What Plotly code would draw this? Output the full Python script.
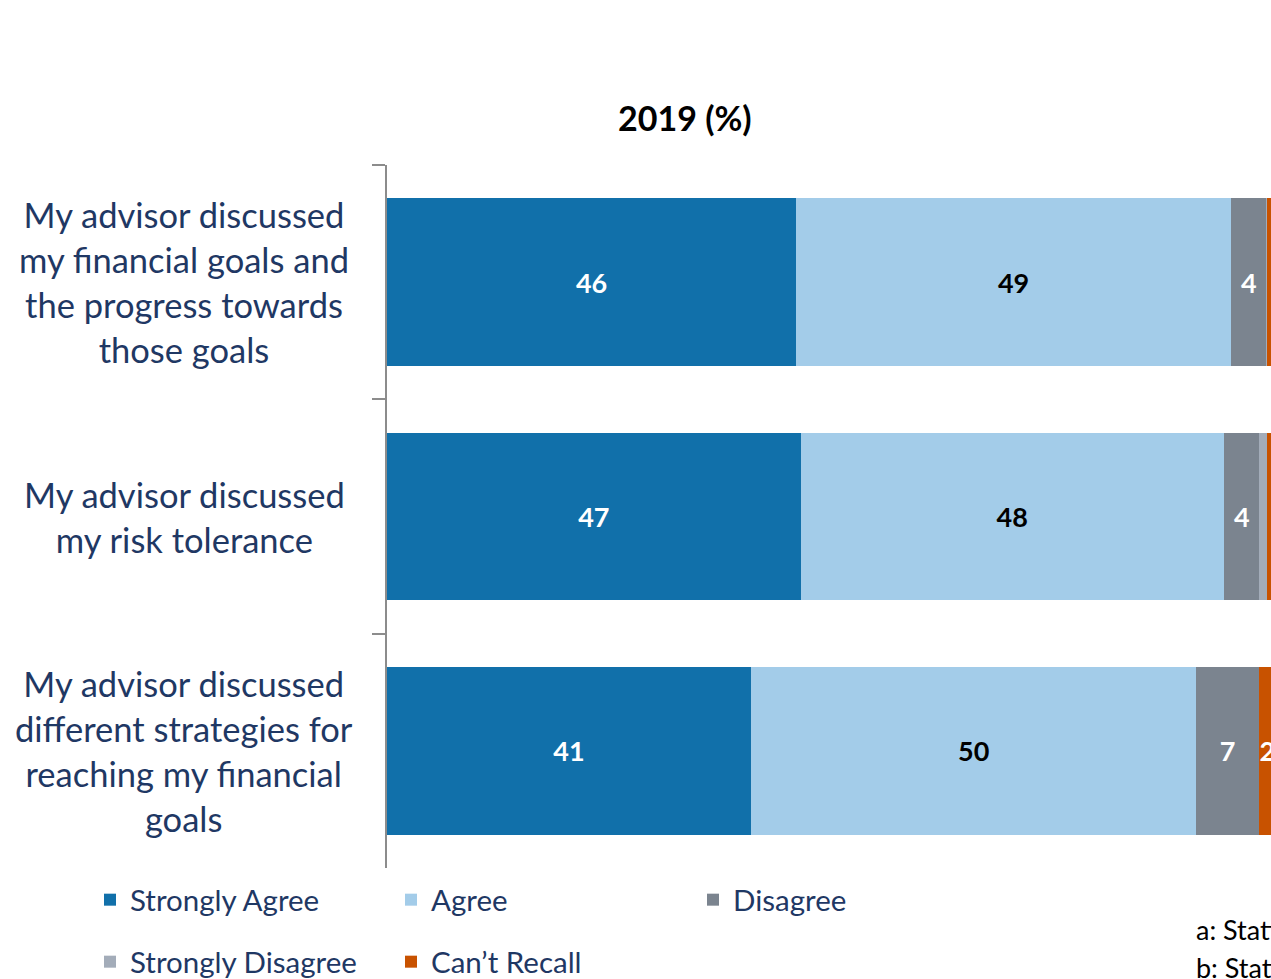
import plotly.graph_objects as go

categories = [
    "My advisor discussed<br>my financial goals and<br>the progress towards<br>those goals",
    "My advisor discussed<br>my risk tolerance",
    "My advisor discussed<br>different strategies for<br>reaching my financial<br>goals",
]
series_names = ["Strongly Agree", "Agree", "Disagree", "Strongly Disagree", "Can\u2019t Recall"]
strongly_agree = [46.1, 46.6, 41.0]
agree = [49.0, 47.7, 50.2]
disagree = [4.0, 4.0, 7.0]
strongly_disagree = [0.1, 0.9, 0.0]
cant_recall = [0.8, 0.8, 2.0]
title_text = "2019 (%)"
notes = ["a: Statistically significant", "b: Statistically significant"]

values = [strongly_agree, agree, disagree, strongly_disagree, cant_recall]
colors = ["#1170AA", "#A3CCE9", "#7B848F", "#A3ACB9", "#C85200"]
text_colors = ["white", "black", "white", "white", "white"]
legend_ids = ["legend", "legend", "legend3", "legend2", "legend2"]

FONT = "Lato"
NAVY = "#1F3864"

fig = go.Figure()
for name, vals, col, tcol, lg in zip(series_names, values, colors, text_colors, legend_ids):
    fig.add_trace(go.Bar(
        y=categories, x=vals, name=name, orientation="h",
        marker=dict(color=col, line=dict(width=0)),
        text=[f"{v:.0f}" if v >= 2 else "" for v in vals],
        textposition="inside", insidetextanchor="middle", constraintext="none",
        textfont=dict(family=FONT, size=27, color=tcol, weight="bold"),
        legend=lg, hoverinfo="skip",
    ))

annotations = []
for c in categories:
    annotations.append(dict(
        x=-0.2296, xref="paper", y=c, yref="y", text=c, showarrow=False,
        xanchor="center", yanchor="middle", align="center",
        font=dict(family=FONT, size=34.5, color=NAVY),
    ))
annotations.append(dict(
    x=0.337, xref="paper", y=1.068, yref="paper", text=f"<b>{title_text}</b>",
    showarrow=False, xanchor="center", yanchor="middle",
    font=dict(family=FONT, size=34, color="black"),
))
for note, yy in zip(notes, [-0.0868, -0.142]):
    annotations.append(dict(
        x=0.913, xref="paper", y=yy, yref="paper", text=note, showarrow=False,
        xanchor="left", yanchor="middle",
        font=dict(family=FONT, size=27, color="black"),
    ))

legend_common = dict(
    orientation="h", xref="container", yref="container", xanchor="left", yanchor="middle",
    font=dict(family=FONT, size=29.5, color=NAVY), entrywidth=256, entrywidthmode="pixels",
    bgcolor="rgba(0,0,0,0)", borderwidth=0, traceorder="normal",
)

fig.update_layout(
    width=1271, height=979,
    margin=dict(l=387, r=0, t=165, b=111),
    paper_bgcolor="white", plot_bgcolor="white",
    barmode="stack", bargap=0.285,
    showlegend=True,
    legend=dict(x=90 / 1271, y=1 - 900 / 979, **legend_common),
    legend3=dict(x=693 / 1271, y=1 - 900 / 979, **legend_common),
    legend2=dict(x=90 / 1271, y=1 - 962 / 979, **legend_common),
    xaxis=dict(range=[0, 99.6], visible=False, fixedrange=True),
    yaxis=dict(
        type="category", categoryorder="array", categoryarray=categories,
        autorange="reversed", showticklabels=False, showline=True,
        linecolor="#8C8C8C", linewidth=2, ticks="outside", ticklen=13,
        tickcolor="#8C8C8C", tickwidth=2, tickson="boundaries", showgrid=False,
        zeroline=False, fixedrange=True,
    ),
    annotations=annotations,
)

fig.write_html(
    "out.html",
    config={"displayModeBar": False},
    post_script="document.body.style.margin='0px';document.body.style.overflow='hidden';",
)
